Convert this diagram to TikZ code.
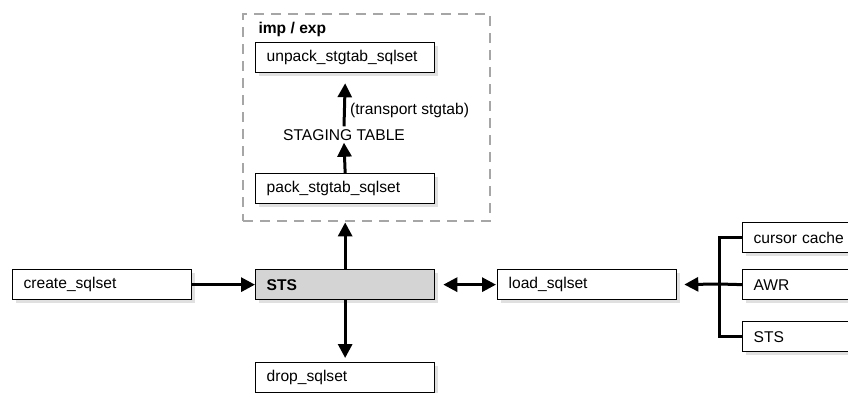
\documentclass[tikz,border=0pt]{standalone}
\usepackage{fontspec}
\setmainfont{Liberation Sans}
\usetikzlibrary{arrows.meta,shadows}
\begin{document}
\begin{tikzpicture}[x=1pt,y=-1pt,
  every node/.style={font=\fontsize{15.6}{18}\selectfont},
  box/.style={draw, line width=1.3pt, fill=white, inner xsep=11pt, inner ysep=0pt,
    text width=157pt, align=left, minimum height=30pt, anchor=north west,
    drop shadow={shadow xshift=3pt, shadow yshift=-3pt, fill=black!12, opacity=1}},
  frame/.style={draw=black!35, line width=2.4pt, dash pattern=on 10pt off 7pt,
    minimum width=247pt, minimum height=207pt, anchor=north west, inner sep=0pt},
  arr/.style={line width=3pt, -{Triangle[length=14pt,width=14pt]}},
  darr/.style={line width=3pt, {Triangle[length=14pt,width=14pt]}-{Triangle[length=14pt,width=14pt]}},
  ln/.style={line width=3pt}]
\useasboundingbox (0,0) rectangle (848,393);
\clip (0,0) rectangle (848,393);
\node[frame] (frame) at (242,13) {};
\node[anchor=west, font=\fontsize{15.6}{18}\selectfont\bfseries] (imp) at (255,29) {imp / exp};
\node[box] (unpack) at (255,42) {unpack\_stgtab\_sqlset};
\node[box] (pack) at (255,173) {pack\_stgtab\_sqlset};
\node[inner sep=0pt] (staging) at (344,135) {STAGING TABLE};
\node[anchor=west, inner sep=0pt] (transport) at (350,110) {(transport stgtab)};
\node[box] (create) at (12,269) {create\_sqlset};
\node[box, fill=black!17, font=\fontsize{15.6}{18}\selectfont\bfseries] (sts) at (255,269) {STS};
\node[box] (drop) at (255,362) {drop\_sqlset};
\node[box] (load) at (497,269) {load\_sqlset};
\node[box] (cursor) at (742,222) {cursor cache};
\node[box] (awr) at (742,269) {AWR};
\node[box] (sts2) at (742,321) {STS};
\coordinate (br) at (719,284);
\draw[arr] (create.east) -- (sts.west);
\draw[arr] (sts.north) -- (sts.north |- frame.south);
\draw[arr] (pack.north) -- ([yshift=-2pt]staging.south);
\draw[arr] ([yshift=3pt]staging.north) -- ([yshift=-10pt]unpack.south);
\draw[arr, shorten >=4pt] (sts.south) -- (drop.north);
\draw[darr, shorten <=8pt, shorten >=1pt] (sts.east) -- (load.west);
\draw[ln] (cursor.west) -| (br |- sts2.west) -- (sts2.west);
\draw[ln] (awr.west) -- (br);
\draw[arr, shorten >=7pt] (br) -- (load.east);
\end{tikzpicture}
\end{document}
